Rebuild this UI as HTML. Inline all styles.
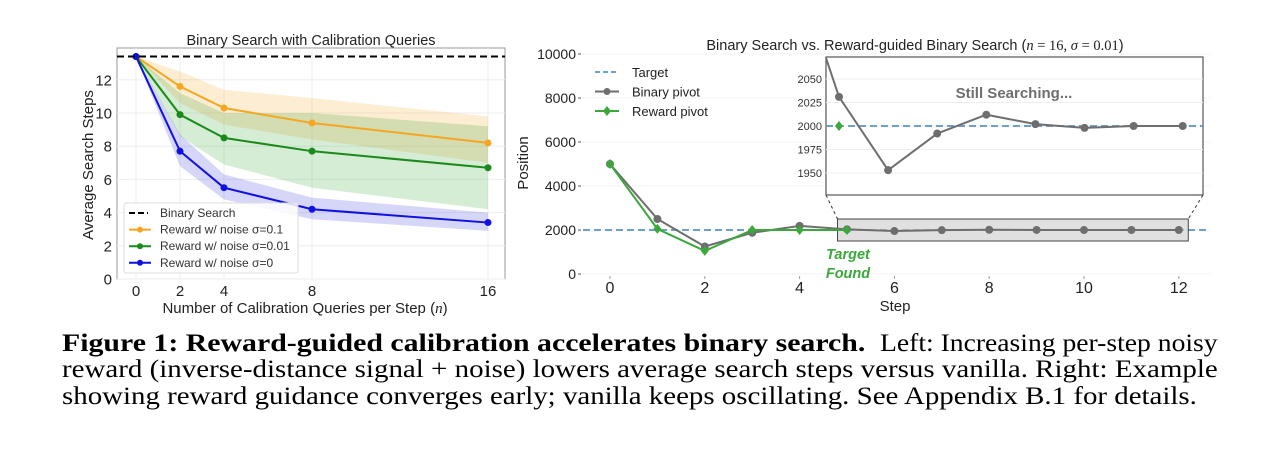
<!DOCTYPE html>
<html><head><meta charset="utf-8"><style>
body{margin:0;background:#fff;width:1279px;height:463px;overflow:hidden;position:relative;font-family:"Liberation Sans",sans-serif}
svg{position:absolute;left:0;top:0}
.cl{position:absolute;font-family:"Liberation Serif",serif;font-size:25px;line-height:25px;white-space:nowrap;color:#000;transform-origin:0 0}
</style></head><body>
<svg id="chart" width="1279" height="320"></svg>
<div id="cap">
<div class="cl" style="left:62px;top:331px" data-w="803"><b>Figure 1: Reward-guided calibration accelerates binary search.</b></div>
<div class="cl" style="left:880px;top:331px" data-w="338">Left: Increasing per-step noisy</div>
<div class="cl" style="left:62px;top:357px" data-w="1156">reward (inverse-distance signal + noise) lowers average search steps versus vanilla. Right: Example</div>
<div class="cl" style="left:62px;top:384px" data-w="1135">showing reward guidance converges early; vanilla keeps oscillating. See Appendix B.1 for details.</div>
</div>
<script>
document.querySelectorAll('.cl').forEach(d=>{const w=d.scrollWidth;d.style.transform='scaleX('+(+d.dataset.w/w)+')';});
// Left chart data
const leftX=[0,2,4,8,16];
const binarySteps=13.4;
const orangeY=[13.4,11.6,10.3,9.4,8.2];
const orangeHi=[13.4,12.5,11.4,10.9,9.8];
const orangeLo=[13.4,10.6,9.3,8.4,7.0];
const greenY=[13.4,9.9,8.5,7.7,6.7];
const greenHi=[13.4,11.2,10.0,10.0,9.2];
const greenLo=[13.4,8.6,6.9,5.5,4.2];
const blueY=[13.4,7.7,5.5,4.2,3.4];
const blueHi=[13.4,8.7,6.3,4.9,4.0];
const blueLo=[13.4,6.8,4.8,3.6,2.9];
const leftYTicks=[0,2,4,6,8,10,12];
const leftXTicks=[0,2,4,8,16];
// Right chart data
const steps=[0,1,2,3,4,5,6,7,8,9,10,11,12];
const binaryPivot=[5000,2500,1250,1875,2187,2031,1953,1992,2012,2002,1998,2000,2000];
const rewardSteps=[0,1,2,3,4,5];
const rewardPivot=[5000,2050,1050,2000,2000,2000];
const targetPos=2000;
const rightYTicks=[0,2000,4000,6000,8000,10000];
const rightXTicks=[0,2,4,6,8,10,12];
const insetYTicks=[1950,1975,2000,2025,2050];

const svg=document.getElementById('chart');
const NS='http://www.w3.org/2000/svg';
function mk(tag,attrs,parent){const e=document.createElementNS(NS,tag);for(const k in attrs)e.setAttribute(k,attrs[k]);(parent||svg).appendChild(e);return e;}
function txt(s,attrs,parent){const e=mk('text',attrs,parent);e.textContent=s;return e;}

// ---------- Left chart ----------
const lx=v=>136+v*22;
const ly=v=>279-v*16.6;
let g=mk('g',{});


let frame=mk('rect',{x:117,y:48,width:388,height:231,fill:'#fff',stroke:'#999','stroke-width':1},g);


leftYTicks.forEach(t=>{mk('line',{x1:117,x2:505,y1:ly(t),y2:ly(t),stroke:'#eee'},g);
 let e=txt(t,{x:112,y:ly(t)+5.5,'text-anchor':'end','font-size':15,fill:'#222'},g);
 });
leftXTicks.forEach(t=>{mk('line',{x1:lx(t),x2:lx(t),y1:48,y2:279,stroke:'#eee'},g);
 let e=txt(t,{x:lx(t),y:296,'text-anchor':'middle','font-size':15,fill:'#222'},g);
 });
function band(hi,lo,color,name){let d='M'+leftX.map((x,i)=>lx(x)+','+ly(hi[i])).join('L')+'L'+leftX.map((x,i)=>lx(x)+','+ly(lo[i])).reverse().join('L')+'Z';
 let p=mk('path',{d:d,fill:color,'fill-opacity':0.2},g);}
band(orangeHi,orangeLo,'#f5a623','orange-band');
band(greenHi,greenLo,'#2ca02c','green-band');
band(blueHi,blueLo,'#3030e0','blue-band');
function series(ys,color,name){let p=mk('polyline',{points:leftX.map((x,i)=>lx(x)+','+ly(ys[i])).join(' '),fill:'none',stroke:color,'stroke-width':2},g);
 
 leftX.forEach((x,i)=>{let c=mk('circle',{cx:lx(x),cy:ly(ys[i]),r:3.5,fill:color},g);});}
series(orangeY,'#f5a623','orange');
series(greenY,'#1a8a1a','green');
series(blueY,'#1010e0','blue');
let bl=mk('line',{x1:117,x2:505,y1:ly(binarySteps),y2:ly(binarySteps),stroke:'#000','stroke-width':2,'stroke-dasharray':'7,4'},g);

let t1=txt('Binary Search with Calibration Queries',{x:311,y:45,'text-anchor':'middle','font-size':14.5,fill:'#222'},g);

let t2=txt('',{x:305,y:313,'text-anchor':'middle','font-size':15,fill:'#222'},g);
t2.innerHTML='Number of Calibration Queries per Step (<tspan font-family="Liberation Serif" font-style="italic">n</tspan>)';

let t3=txt('Average Search Steps',{x:0,y:0,'text-anchor':'middle','font-size':15,fill:'#222',transform:'translate(93,165) rotate(-90)'},g);

// legend
let lg=mk('g',{},g);
mk('rect',{x:124,y:203,width:174,height:70,fill:'#fff','fill-opacity':0.85,stroke:'#ddd',rx:2},lg);
const legItems=[['Binary Search','#000',true],['Reward w/ noise σ=0.1','#f5a623'],['Reward w/ noise σ=0.01','#1a8a1a'],['Reward w/ noise σ=0','#1010e0']];
legItems.forEach((it,i)=>{const y=213+i*16.6;
 if(it[2])mk('line',{x1:129,x2:148,y1:y,y2:y,stroke:'#000','stroke-width':2,'stroke-dasharray':'6,3'},lg);
 else{mk('line',{x1:129,x2:151,y1:y,y2:y,stroke:it[1],'stroke-width':2},lg);mk('circle',{cx:140,cy:y,r:3,fill:it[1]},lg);}
 let e=txt(it[0],{x:160,y:y+4,'font-size':12,fill:'#333'},lg);});

// ---------- Right chart ----------
const rx=v=>610+v*47.4;
const ry=v=>274-v*0.022;
let g2=mk('g',{});
rightYTicks.forEach(t=>{mk('line',{x1:583,x2:1210,y1:ry(t),y2:ry(t),stroke:'#f3f3f3'},g2);
 mk('line',{x1:578,x2:581,y1:ry(t),y2:ry(t),stroke:'#555'},g2);
 let e=txt(t,{x:576,y:ry(t)+5,'text-anchor':'end','font-size':14,fill:'#222'},g2);});
rightXTicks.forEach(t=>{mk('line',{x1:rx(t),x2:rx(t),y1:276,y2:279,stroke:'#999'},g2);
 let e=txt(t,{x:rx(t),y:293,'text-anchor':'middle','font-size':16,fill:'#222'},g2);});
let tl=mk('line',{x1:583,x2:1210,y1:ry(targetPos),y2:ry(targetPos),stroke:'#5b93c0','stroke-width':1.8,'stroke-dasharray':'7,4'},g2);

let gr=mk('rect',{x:rx(4.8),y:219,width:rx(12.2)-rx(4.8),height:22,fill:'#ccc','fill-opacity':0.6,stroke:'#444'},g2);

let bp=mk('polyline',{points:steps.map((s,i)=>rx(s)+','+ry(binaryPivot[i])).join(' '),fill:'none',stroke:'#6e6e6e','stroke-width':2},g2);

steps.forEach((s,i)=>{let c=mk('circle',{cx:rx(s),cy:ry(binaryPivot[i]),r:4,fill:'#6e6e6e'},g2);});
let rp=mk('polyline',{points:rewardSteps.map((s,i)=>rx(s)+','+ry(rewardPivot[i])).join(' '),fill:'none',stroke:'#3aa83a','stroke-width':2},g2);

function diamond(x,y,c,par){return mk('path',{d:`M${x},${y-5}L${x+4},${y}L${x},${y+5}L${x-4},${y}Z`,fill:c},par);}
rewardSteps.forEach((s,i)=>{let d=diamond(rx(s),ry(rewardPivot[i]),'#3aa83a',g2);});
// connectors
mk('line',{x1:826,y1:195,x2:rx(4.8),y2:219,stroke:'#333','stroke-dasharray':'3,3'},g2);
mk('line',{x1:1203,y1:195,x2:rx(12.2),y2:219,stroke:'#333','stroke-dasharray':'3,3'},g2);
// inset
const ix=v=>839+(v-5)*49.1;
const iy=v=>126-(v-2000)*0.94;
let ig=mk('g',{},g2);
mk('rect',{x:826,y:57,width:377,height:138,fill:'#fff',stroke:'#555','stroke-width':1.2},ig);
let cp=mk('clipPath',{id:'ic'},ig);mk('rect',{x:826,y:57,width:377,height:138},cp);
insetYTicks.forEach(t=>{mk('line',{x1:826,x2:1203,y1:iy(t),y2:iy(t),stroke:'#eee'},ig);
 let e=txt(t,{x:822,y:iy(t)+4,'text-anchor':'end','font-size':11,fill:'#333'},ig);});
let cg=mk('g',{'clip-path':'url(#ic)'},ig);
mk('line',{x1:826,x2:1203,y1:iy(targetPos),y2:iy(targetPos),stroke:'#5b93c0','stroke-width':1.8,'stroke-dasharray':'7,4'},cg);
let ibp=mk('polyline',{points:steps.map((s,i)=>ix(s)+','+iy(binaryPivot[i])).join(' '),fill:'none',stroke:'#6e6e6e','stroke-width':2},cg);

steps.forEach((s,i)=>{if(s<5)return;let c=mk('circle',{cx:ix(s),cy:iy(binaryPivot[i]),r:4,fill:'#6e6e6e'},cg);});
let idm=diamond(ix(5),iy(rewardPivot[5]),'#3aa83a',cg);
let ss=txt('Still Searching...',{x:1014,y:98,'text-anchor':'middle','font-size':15,'font-weight':'bold',fill:'#6e6e6e'},ig);

// legend
let lg2=mk('g',{},g2);
[['Target','t'],['Binary pivot','b'],['Reward pivot','r']].forEach((it,i)=>{const y=72+i*19.5;
 if(it[1]=='t')mk('line',{x1:595,x2:617,y1:y,y2:y,stroke:'#5b93c0','stroke-width':1.8,'stroke-dasharray':'5,3'},lg2);
 if(it[1]=='b'){mk('line',{x1:595,x2:619,y1:y,y2:y,stroke:'#6e6e6e','stroke-width':2},lg2);mk('circle',{cx:607,cy:y,r:3.5,fill:'#6e6e6e'},lg2);}
 if(it[1]=='r'){mk('line',{x1:595,x2:619,y1:y,y2:y,stroke:'#3aa83a','stroke-width':2},lg2);diamond(607,y,'#3aa83a',lg2);}
 let e=txt(it[0],{x:632,y:y+5,'font-size':13,fill:'#222'},lg2);});
let rt=txt('',{x:915,y:50,'text-anchor':'middle','font-size':14.5,fill:'#222'},g2);
rt.innerHTML='Binary Search vs. Reward-guided Binary Search (<tspan font-family="Liberation Serif" font-style="italic">n</tspan><tspan font-family="Liberation Serif"> = 16, </tspan><tspan font-family="Liberation Serif" font-style="italic">σ</tspan><tspan font-family="Liberation Serif"> = 0.01</tspan>)';

let sx=txt('Step',{x:895,y:311,'text-anchor':'middle','font-size':15,fill:'#222'},g2);
let py=txt('Position',{x:0,y:0,'text-anchor':'middle','font-size':15,fill:'#222',transform:'translate(528,163) rotate(-90)'},g2);
let tf1=txt('Target',{x:848,y:259,'text-anchor':'middle','font-size':14.5,'font-weight':'bold','font-style':'italic',fill:'#3aa83a'},g2);

let tf2=txt('Found',{x:848,y:278,'text-anchor':'middle','font-size':14.5,'font-weight':'bold','font-style':'italic',fill:'#3aa83a'},g2);

</script>
</body></html>
